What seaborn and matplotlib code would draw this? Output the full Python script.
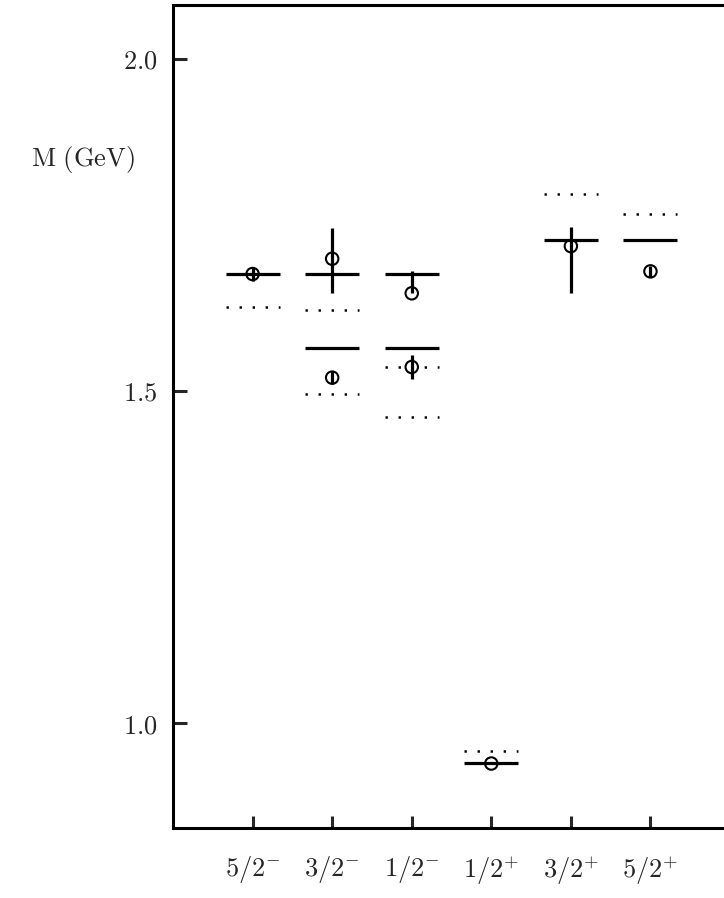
import matplotlib
matplotlib.use("Agg")
import matplotlib.pyplot as plt
import seaborn as sns
import pandas as pd

# spin-parity channels along the x axis
states = ['5/2-', '3/2-', '1/2-', '1/2+', '3/2+', '5/2+']
state_labels = [r'$5/2^{-}$', r'$3/2^{-}$', r'$1/2^{-}$', r'$1/2^{+}$', r'$3/2^{+}$', r'$5/2^{+}$']

# solid levels
model_state = ['5/2-', '3/2-', '3/2-', '1/2-', '1/2-', '1/2+', '3/2+', '5/2+']
model_mass = [1.676, 1.676, 1.564, 1.676, 1.564, 0.940, 1.727, 1.727]

# dotted levels
exp_state = ['5/2-', '3/2-', '3/2-', '1/2-', '1/2-', '1/2+', '3/2+', '5/2+']
exp_mass = [1.627, 1.622, 1.496, 1.536, 1.460, 0.958, 1.796, 1.767]

# open circles with error bars
lat_state = ['5/2-', '3/2-', '3/2-', '1/2-', '1/2-', '1/2+', '3/2+', '5/2+']
lat_mass = [1.676, 1.699, 1.520, 1.647, 1.536, 0.939, 1.718, 1.680]
lat_err_up = [0.010, 0.046, 0.010, 0.033, 0.018, 0.0, 0.029, 0.008]
lat_err_dn = [0.010, 0.051, 0.010, 0.0, 0.018, 0.0, 0.071, 0.008]

yticks = [1.0, 1.5, 2.0]
ytick_labels = [r'$1.0$', r'$1.5$', r'$2.0$']

sns.set_theme(style='ticks')
plt.rcParams['mathtext.fontset'] = 'cm'
plt.rcParams['font.family'] = ['DejaVu Serif']
plt.rcParams['lines.scale_dashes'] = False

pos = {s: i + 1 for i, s in enumerate(states)}
half = 0.34

model = pd.DataFrame({'state': model_state, 'mass': model_mass})
model['x'] = model['state'].map(pos)
exp = pd.DataFrame({'state': exp_state, 'mass': exp_mass})
exp['x'] = exp['state'].map(pos)
lat = pd.DataFrame({'state': lat_state, 'mass': lat_mass,
                    'up': lat_err_up, 'dn': lat_err_dn})
lat['x'] = lat['state'].map(pos)

fig = plt.figure(figsize=(7.24, 8.98), dpi=100)
ax = fig.add_axes([0.239, 0.078, 0.7693, 0.9164])

ax.hlines(model['mass'], model['x'] - half, model['x'] + half,
          colors='black', linewidth=2.3)
ax.hlines(exp['mass'], exp['x'] - half, exp['x'] + half,
          colors='black', linewidth=1.8, linestyles=[(0, (1.7, 7.7))])
ax.vlines(lat['x'], lat['mass'] - lat['dn'], lat['mass'] + lat['up'],
          colors='black', linewidth=2.3)
sns.scatterplot(data=lat, x='x', y='mass', ax=ax, marker='o', s=80,
                facecolor='none', edgecolor='black', linewidth=1.5,
                legend=False, zorder=3)

ax.set_xlim(0, 7)
ax.set_ylim(0.842, 2.081)
ax.set_xticks(range(1, len(states) + 1))
ax.set_xticklabels(state_labels)
ax.set_yticks(yticks)
ax.set_yticklabels(ytick_labels)
ax.minorticks_off()
ax.tick_params(axis='x', direction='in', length=9, width=2.2, labelsize=19,
               pad=19, top=False)
ax.tick_params(axis='y', direction='in', length=10, width=2.2, labelsize=19,
               pad=11, right=False)
for sp in ax.spines.values():
    sp.set_linewidth(2.2)
    sp.set_color('black')

ax.set_xlabel('')
ax.set_ylabel(r'$\mathrm{M\ (GeV)}$', rotation=0, fontsize=19,
              ha='center', va='center')
ax.yaxis.set_label_coords(-0.162, 0.812)

fig.savefig('out.png', dpi=100)
